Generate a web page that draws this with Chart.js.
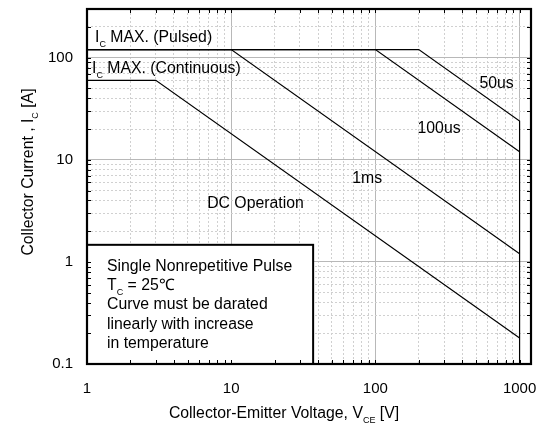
<!DOCTYPE html>
<html>
<head>
<meta charset="utf-8">
<script src="https://cdn.jsdelivr.net/npm/chart.js@4.4.1/dist/chart.umd.min.js"></script>
<style>
  html, body { margin: 0; padding: 0; background: #fff; }
</style>
</head>
<body>
<canvas id="soa" width="537" height="427"></canvas>
<script>
// safe operating area, V_CE [V] vs I_C [A]
var dcV = [1, 3, 1000];
var dcI = [60, 60, 0.18];
var ms1V = [1, 10, 1000];
var ms1I = [120, 120, 1.2];
var us100V = [1, 100, 1000];
var us100I = [120, 120, 12];
var us50V = [1, 200, 1000, 1000];
var us50I = [120, 120, 24, 0.1];

var xTickLabels = ["1", "10", "100", "1000"];
var yTickLabels = ["0.1", "1", "10", "100"];
var xRange = [1, 1200];
var yRange = [0.1, 300];

var FONT = '"Liberation Sans", Arial, sans-serif';
Chart.defaults.font.family = FONT;
Chart.defaults.font.size = 15;
Chart.defaults.color = "#000";

function pts(v, i) {
  return v.map(function (x, k) { return { x: x, y: i[k] }; });
}

function logTicks(lo, hi) {
  var t = [];
  for (var e = Math.floor(Math.log10(lo)); Math.pow(10, e) <= hi; e++) {
    for (var m = 1; m < 10; m++) {
      var v = +(m * Math.pow(10, e)).toPrecision(3);
      if (v >= lo && v <= hi) t.push({ value: v });
    }
  }
  return t;
}

function isDecade(v) {
  var l = Math.log10(v);
  return Math.abs(l - Math.round(l)) < 1e-9;
}

function gridOpts() {
  return {
    drawTicks: false,
    lineWidth: 1,
    color: function (c) { return c.tick && isDecade(c.tick.value) ? "#b8b8b8" : "#d0d0d0"; }
  };
}
function borderOpts() {
  return {
    display: false,
    dash: function (c) { return c.tick && !isDecade(c.tick.value) ? [2, 2] : []; }
  };
}

// text with subscripts: parts = [[text, isSub], ...]
function richWidth(ctx, parts) {
  var w = 0;
  parts.forEach(function (p) {
    ctx.font = (p[1] ? "9px " : "15.8px ") + FONT;
    w += ctx.measureText(p[0]).width;
  });
  return w;
}
function drawRich(ctx, parts, x, y) {
  parts.forEach(function (p) {
    ctx.font = (p[1] ? "9px " : "15.8px ") + FONT;
    ctx.fillText(p[0], x, p[1] ? y + 5 : y);
    x += ctx.measureText(p[0]).width;
  });
}

// curve notes, anchored at (V, I)
var notes = [
  { v: 1.137, i: 142, parts: [["I", false], ["C", true], [" MAX. (Pulsed)", false]] },
  { v: 1.083, i: 70.5, parts: [["I", false], ["C", true], [" MAX. (Continuous)", false]] },
  { v: 527, i: 50.8, parts: [["50us", false]] },
  { v: 196, i: 18.4, parts: [["100us", false]] },
  { v: 69.2, i: 5.95, parts: [["1ms", false]] },
  { v: 6.81, i: 3.38, parts: [["DC Operation", false]] }
];

var boxLines = [
  [["Single Nonrepetitive Pulse", false]],
  [["T", false], ["C", true], [" = 25\u2103", false]],
  [["Curve must be darated", false]],
  [["linearly with increase", false]],
  [["in temperature", false]]
];
var boxCorner = { v: 37, i: 1.47 };

var decor = {
  id: "decor",
  afterDatasetsDraw: function (chart) {
    var ctx = chart.ctx, a = chart.chartArea;
    var xs = chart.scales.x, ys = chart.scales.y;
    ctx.save();
    ctx.fillStyle = "#000";
    ctx.textBaseline = "alphabetic";
    notes.forEach(function (n) {
      drawRich(ctx, n.parts, xs.getPixelForValue(n.v), ys.getPixelForValue(n.i));
    });

    // note box
    var bx = a.left, by = ys.getPixelForValue(boxCorner.i);
    var bw = xs.getPixelForValue(boxCorner.v) - a.left, bh = a.bottom - by;
    ctx.fillStyle = "#fff";
    ctx.fillRect(bx, by, bw, bh);
    ctx.strokeStyle = "#000";
    ctx.lineWidth = 2;
    ctx.strokeRect(bx, by, bw, bh);
    ctx.fillStyle = "#000";
    boxLines.forEach(function (ln, k) {
      drawRich(ctx, ln, bx + 20, by + 26 + k * 19.3);
    });

    // inner ticks
    ctx.lineWidth = 1;
    ctx.beginPath();
    ys.ticks.forEach(function (t) {
      var y = Math.round(ys.getPixelForValue(t.value)) + 0.5;
      ctx.moveTo(a.left, y); ctx.lineTo(a.left + 4, y);
      ctx.moveTo(a.right, y); ctx.lineTo(a.right - 4, y);
    });
    xs.ticks.forEach(function (t) {
      var x = Math.round(xs.getPixelForValue(t.value)) + 0.5;
      ctx.moveTo(x, a.bottom); ctx.lineTo(x, a.bottom - 4);
      ctx.moveTo(x, a.top); ctx.lineTo(x, a.top + 4);
    });
    ctx.stroke();

    // frame
    ctx.lineWidth = 2.2;
    ctx.strokeRect(a.left, a.top, a.right - a.left, a.bottom - a.top);
    ctx.restore();
  },
  afterDraw: function (chart) {
    var ctx = chart.ctx;
    ctx.save();
    ctx.fillStyle = "#000";
    ctx.textBaseline = "alphabetic";
    var xt = [["Collector-Emitter Voltage, V", false], ["CE", true], [" [V]", false]];
    drawRich(ctx, xt, 284 - richWidth(ctx, xt) / 2, 418);
    var yt = [["Collector Current , I", false], ["C", true], [" [A]", false]];
    ctx.translate(33, 172);
    ctx.rotate(-Math.PI / 2);
    drawRich(ctx, yt, -richWidth(ctx, yt) / 2, 0);
    ctx.restore();
  }
};

var line = function (v, i) {
  return {
    data: pts(v, i),
    borderColor: "#000",
    borderWidth: 1.2,
    pointRadius: 0,
    fill: false,
    tension: 0
  };
};

new Chart(document.getElementById("soa"), {
  type: "line",
  data: {
    datasets: [
      line(dcV, dcI),
      line(ms1V, ms1I),
      line(us100V, us100I),
      line(us50V, us50I)
    ]
  },
  options: {
    responsive: false,
    animation: false,
    devicePixelRatio: 1,
    layout: { padding: { top: 9, right: 6, left: 0, bottom: 0 } },
    plugins: { legend: { display: false }, tooltip: { enabled: false } },
    scales: {
      x: {
        type: "logarithmic",
        min: xRange[0],
        max: xRange[1],
        afterBuildTicks: function (s) { s.ticks = logTicks(s.min, s.max); },
        afterFit: function (s) { s.height = 63; s.paddingLeft = 0; s.paddingRight = 0; },
        grid: gridOpts(),
        border: borderOpts(),
        ticks: {
          autoSkip: false,
          maxRotation: 0,
          padding: 16,
          callback: function (v) {
            var lab = xTickLabels.find(function (l) { return +l === v; });
            return lab || "";
          }
        }
      },
      y: {
        type: "logarithmic",
        min: yRange[0],
        max: yRange[1],
        afterBuildTicks: function (s) { s.ticks = logTicks(s.min, s.max); },
        afterFit: function (s) { s.width = 87; s.paddingTop = 0; s.paddingBottom = 0; },
        grid: gridOpts(),
        border: borderOpts(),
        ticks: {
          autoSkip: false,
          padding: 14,
          callback: function (v) {
            var lab = yTickLabels.find(function (l) { return +l === v; });
            return lab || "";
          }
        }
      }
    }
  },
  plugins: [decor]
});
</script>
</body>
</html>
